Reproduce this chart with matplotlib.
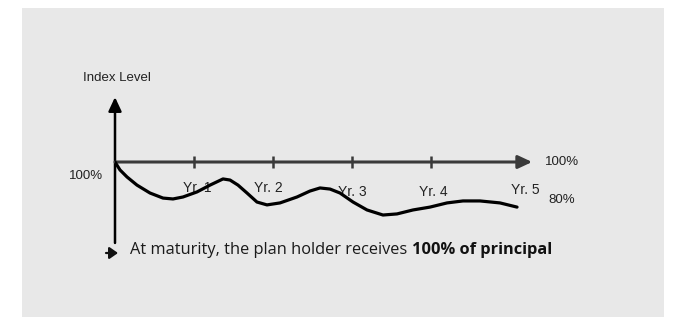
import matplotlib
matplotlib.use("Agg")
import matplotlib.pyplot as plt
from matplotlib.patches import Rectangle

# ---- data ----
years = [0.0, 0.063, 0.152, 0.278, 0.443, 0.608, 0.734, 0.861, 1.038, 1.203, 1.367,
         1.456, 1.557, 1.671, 1.797, 1.924, 2.089, 2.304, 2.468, 2.595, 2.722, 2.848,
         3.013, 3.190, 3.392, 3.570, 3.772, 3.987, 4.203, 4.405, 4.620, 4.873, 5.089]
index_level = [100.0, 96.4, 93.2, 89.5, 85.9, 83.6, 83.2, 84.1, 86.4, 89.5, 92.3,
               91.8, 89.5, 85.9, 81.8, 80.5, 81.4, 84.1, 86.8, 88.2, 87.7, 85.9,
               81.8, 78.2, 75.9, 76.4, 78.2, 79.5, 81.4, 82.3, 82.3, 81.4, 79.5]
tick_years = [1, 2, 3, 4]
year_labels = ["Yr. 1", "Yr. 2", "Yr. 3", "Yr. 4", "Yr. 5"]
principal = 100
floor_label = "80%"
y_title = "Index Level"
note_normal = "At maturity, the plan holder receives "
note_bold = "100% of principal"

W, H = 681, 317
fig = plt.figure(figsize=(W / 100, H / 100), dpi=100)
fig.patch.set_facecolor("white")

# gray panel
fig.patches.append(Rectangle((22 / W, 0), (664 - 22) / W, (H - 8) / H,
                             transform=fig.transFigure, facecolor="#e8e8e8",
                             edgecolor="none", zorder=-10))

# axes: x=0 -> px 115, 79 px/yr ; y=100 -> px 162, 2.2 px/%
x0, xpx = 115, 79
y100, ypx = 162, 2.2
xlim = (0, 5.5)
ylim = (62, 130)
left = x0 / W
width = (xlim[1] - xlim[0]) * xpx / W
top_px = y100 - (ylim[1] - 100) * ypx
bot_px = y100 + (100 - ylim[0]) * ypx
ax = fig.add_axes([left, (H - bot_px) / H, width, (bot_px - top_px) / H])
ax.set_zorder(5)
ax.set_xlim(*xlim)
ax.set_ylim(*ylim)
ax.axis("off")
ax.patch.set_alpha(0)

axc = "#3a3a3a"
txtc = "#222222"
# y axis with arrow
ax.annotate("", xy=(0, 129.5), xytext=(0, 63.2),
            arrowprops=dict(arrowstyle="-|>,head_length=0.6,head_width=0.28",
                            mutation_scale=14, color="black", lw=1.8,
                            shrinkA=0, shrinkB=0), annotation_clip=False)
# x axis with arrow
ax.annotate("", xy=(5.28, principal), xytext=(0, principal),
            arrowprops=dict(arrowstyle="-|>,head_length=0.6,head_width=0.28",
                            mutation_scale=14, color=axc, lw=2.2,
                            shrinkA=0, shrinkB=0), annotation_clip=False)
# ticks
ax.plot(tick_years, [principal] * len(tick_years), ls="none", marker="|",
        ms=9, mew=1.8, color=axc)

# curve
ax.plot(years, index_level, color="black", lw=2.3, solid_capstyle="round",
        solid_joinstyle="round", zorder=5)

font_chart = "Liberation Sans"
ax.text(0.03, 138.2, y_title, ha="center", va="center", fontsize=9.5,
        family=font_chart, color=txtc, clip_on=False)
ax.text(-0.15, 93.6, f"{principal}%", ha="right", va="center", fontsize=9.5,
        family=font_chart, color=txtc, clip_on=False)
ax.text(5.44, principal, f"{principal}%", ha="left", va="center", fontsize=9.5,
        family=font_chart, color=txtc, clip_on=False)
label_x = [1.04, 1.94, 3.01, 4.03, 5.19]
label_y = [88.2, 88.2, 86.4, 86.4, 87.3]
for lx, ly, lab in zip(label_x, label_y, year_labels):
    ax.text(lx, ly, lab, ha="center", va="center", fontsize=10,
            family=font_chart, color=txtc, clip_on=False, zorder=3)
ax.text(5.48, 82.7, floor_label, ha="left", va="center", fontsize=9.5,
        family=font_chart, color=txtc, clip_on=False)

# bottom note
t1 = fig.text(130 / W, (H - 250) / H, note_normal, ha="left", va="center",
              fontsize=11.8, family="Open Sans", color="#1a1a1a")
fig.canvas.draw()
bb = t1.get_window_extent()
fig.text(bb.x1 / W, (H - 250) / H, note_bold, ha="left", va="center",
         fontsize=11.8, family="Open Sans", fontweight="bold", color="#111111")
ax.annotate("", xy=(118, H - 253), xytext=(106, H - 253),
            xycoords="figure pixels", textcoords="figure pixels",
            arrowprops=dict(arrowstyle="-|>,head_length=0.5,head_width=0.35",
                            mutation_scale=10, color="#111111", lw=1.6,
                            shrinkA=0, shrinkB=0), annotation_clip=False)

fig.savefig("out.png", dpi=100, facecolor="white")
